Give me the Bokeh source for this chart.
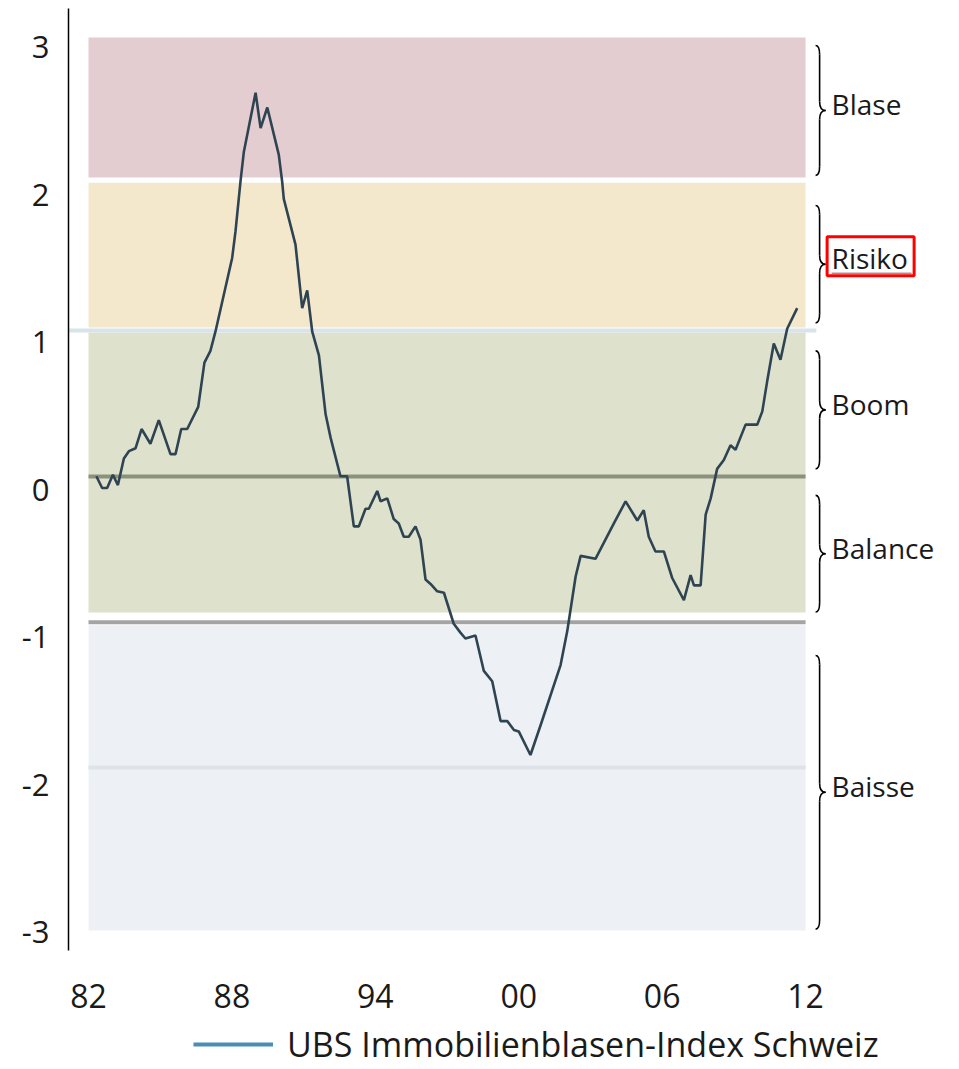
from bokeh.plotting import figure
from bokeh.models import FixedTicker, Legend, LegendItem, ColumnDataSource
from bokeh.core.properties import value
from bokeh.embed import file_html
from bokeh.resources import INLINE

# ---------------- data ----------------
years = [1982.33, 1982.57, 1982.78, 1983.02, 1983.23, 1983.48, 1983.69, 1983.97, 1984.22, 1984.59,
         1984.94, 1985.43, 1985.64, 1985.88, 1986.13, 1986.59, 1986.85, 1987.10, 1987.31, 1987.59,
         1988.01, 1988.15, 1988.36, 1988.50, 1988.99, 1989.20, 1989.48, 1989.96, 1990.10, 1990.17,
         1990.66, 1990.94, 1991.15, 1991.36, 1991.64, 1991.92, 1992.13, 1992.54, 1992.82, 1993.10,
         1993.31, 1993.59, 1993.73, 1994.08, 1994.22, 1994.50, 1994.77, 1994.98, 1995.19, 1995.40,
         1995.68, 1995.89, 1996.10, 1996.31, 1996.59, 1996.87, 1997.28, 1997.56, 1997.77, 1998.19,
         1998.54, 1998.89, 1999.24, 1999.52, 1999.80, 2000.00, 2000.49, 2000.91, 2001.75, 2002.03,
         2002.38, 2002.59, 2003.21, 2003.98, 2004.47, 2004.96, 2005.23, 2005.44, 2005.72, 2006.07,
         2006.42, 2006.91, 2007.19, 2007.33, 2007.61, 2007.82, 2008.03, 2008.30, 2008.58, 2008.86,
         2009.07, 2009.49, 2009.98, 2010.19, 2010.39, 2010.67, 2010.95, 2011.23, 2011.65]
index_values = [0.09, 0.01, 0.01, 0.10, 0.03, 0.21, 0.26, 0.28, 0.41, 0.31,
                0.47, 0.24, 0.24, 0.41, 0.41, 0.56, 0.86, 0.94, 1.07, 1.27,
                1.57, 1.75, 2.09, 2.29, 2.69, 2.45, 2.59, 2.27, 2.09, 1.97,
                1.66, 1.23, 1.35, 1.07, 0.91, 0.51, 0.35, 0.09, 0.09, -0.25,
                -0.25, -0.13, -0.13, -0.01, -0.08, -0.06, -0.20, -0.23, -0.32, -0.32,
                -0.25, -0.34, -0.61, -0.64, -0.69, -0.70, -0.91, -0.97, -1.01, -0.99,
                -1.23, -1.30, -1.57, -1.57, -1.63, -1.64, -1.80, -1.60, -1.19, -0.96,
                -0.59, -0.45, -0.47, -0.23, -0.08, -0.21, -0.14, -0.32, -0.42, -0.42,
                -0.60, -0.75, -0.58, -0.65, -0.65, -0.17, -0.06, 0.14, 0.20, 0.30,
                0.27, 0.44, 0.44, 0.53, 0.73, 0.99, 0.88, 1.09, 1.23]

x_ticks = [1982, 1988, 1994, 2000, 2006, 2012]
x_tick_labels = ["82", "88", "94", "00", "06", "12"]
y_ticks = [-3, -2, -1, 0, 1, 2, 3]
y_tick_labels = ["-3", "-2", "-1", "0", "1", "2", "3"]
y_axis_bottom = -3.125
y_axis_top = 3.261

band_top = [3.064, 2.080, 1.064, -0.920]
band_bottom = [2.115, 1.098, -0.834, -2.990]
band_colors = ["#e4cdd1", "#f4e8cc", "#dee2cd", "#edf0f4"]
band_start = 1982.0
band_end = 2012.0

level_values = [1.078, 0.088, -0.900, -1.885]
level_start = [1981.16, 1982.0, 1982.0, 1982.0]
level_end = [2012.45, 2012.0, 2012.0, 2012.0]
level_colors = ["#d8e4e9", "#8c917e", "#a4a4a4", "#dde3e6"]

zone_names = ["Blase", "Risiko", "Boom", "Balance", "Baisse"]
zone_top = [3.01, 1.925, 0.94, -0.04, -1.125]
zone_bottom = [2.13, 1.13, 0.14, -0.83, -2.98]
highlighted_zone = "Risiko"

legend_label = "UBS Immobilienblasen-Index Schweiz"

FONT = "Open Sans"

# ---------------- figure ----------------
p = figure(width=959, height=1069, x_range=(1981.163, 2018.44), y_range=(-3.932, y_axis_top),
           output_backend="svg", toolbar_location=None,
           min_border_left=68, min_border_right=0, min_border_top=8, min_border_bottom=0)
p.outline_line_color = None
p.xgrid.visible = False
p.ygrid.visible = False
p.background_fill_color = "white"

# bands
p.quad(left=[band_start] * len(band_top), right=[band_end] * len(band_top),
       bottom=band_bottom, top=band_top, fill_color=band_colors, line_color=None)

# level lines
p.segment(x0=level_start, x1=level_end, y0=level_values, y1=level_values,
          line_color=level_colors, line_width=4)

# index line
p.line(years, index_values, line_color="#2f4452", line_width=2.6)

# braces and zone labels (decoration, sized in pixels)
px_x = 1 / 23.9
px_y = 1 / 147.5
bx0 = 2012.42
bx1 = bx0 + 4 * px_x
bx2 = bx0 + 10 * px_x
r = 9 * px_y
qx0, qy0, qx1, qy1, qcx, qcy = [], [], [], [], [], []
sx0, sy0, sx1, sy1 = [], [], [], []
mids = []
for t, b in zip(zone_top, zone_bottom):
    m = (t + b) / 2
    mids.append(m)
    qx0 += [bx0, bx1, bx2, bx1]
    qy0 += [t, m + r, m, b + r]
    qx1 += [bx1, bx2, bx1, bx0]
    qy1 += [t - r, m, m - r, b]
    qcx += [bx1, bx1, bx1, bx1]
    qcy += [t, m, m, b]
    sx0 += [bx1, bx1]
    sy0 += [t - r, m - r]
    sx1 += [bx1, bx1]
    sy1 += [m + r, b + r]
p.quadratic(x0=qx0, y0=qy0, x1=qx1, y1=qy1, cx=qcx, cy=qcy, line_color="black", line_width=1.6)
p.segment(x0=sx0, y0=sy0, x1=sx1, y1=sy1, line_color="black", line_width=1.6)

label_x = bx2 + 6 * px_x
p.text(x=[label_x] * len(zone_names), y=mids, text=zone_names, y_offset=-6,
       text_font=value(FONT), text_font_size="28px", text_color="#1a1a1a",
       text_baseline="middle", text_align="left")

hi = zone_names.index(highlighted_zone)
p.rect(x=[label_x + 39 * px_x], y=[mids[hi] + 8 * px_y], width=[87], height=[39],
       width_units="screen", height_units="screen",
       fill_color=None, line_color="#ff0000", line_width=3)
p.segment(x0=[label_x], x1=[label_x + 80 * px_x], y0=[mids[hi] - 9 * px_y], y1=[mids[hi] - 9 * px_y],
          line_color="#666666", line_width=1)

# axes
p.yaxis.ticker = FixedTicker(ticks=y_ticks)
p.yaxis.bounds = (y_axis_bottom, y_axis_top)
p.yaxis.major_label_overrides = {t: l for t, l in zip(y_ticks, y_tick_labels)}
p.yaxis.axis_line_color = "black"
p.yaxis.axis_line_width = 1.5
p.yaxis.major_tick_line_color = None
p.yaxis.minor_tick_line_color = None
p.yaxis.major_label_standoff = 13
p.yaxis.major_label_text_font = FONT
p.yaxis.major_label_text_font_size = "31px"
p.yaxis.major_label_text_color = "#1a1a1a"

p.xaxis.ticker = FixedTicker(ticks=x_ticks)
p.xaxis.fixed_location = y_axis_bottom
p.xaxis.major_label_overrides = {t: l for t, l in zip(x_ticks, x_tick_labels)}
p.xaxis.axis_line_color = None
p.xaxis.major_tick_line_color = None
p.xaxis.minor_tick_line_color = None
p.xaxis.major_label_standoff = 28
p.xaxis.major_label_text_font = FONT
p.xaxis.major_label_text_font_size = "32px"
p.xaxis.major_label_text_color = "#1a1a1a"

# legend (inside the frame, under the axis labels)
legend_src = ColumnDataSource(data=dict(x=[float("nan")], y=[float("nan")]))
legend_line = p.line("x", "y", source=legend_src, line_color="#4a8db5", line_width=4)
legend = Legend(items=[LegendItem(label=legend_label, renderers=[legend_line])],
                location=(125, 2), orientation="horizontal", glyph_width=80, glyph_height=40,
                label_text_font=FONT, label_text_font_size="34px", label_text_color="#1a1a1a",
                label_standoff=14, padding=0, margin=0, spacing=0,
                border_line_color=None, background_fill_alpha=0)
p.add_layout(legend)

open("out.html", "w").write(file_html(p, INLINE))
